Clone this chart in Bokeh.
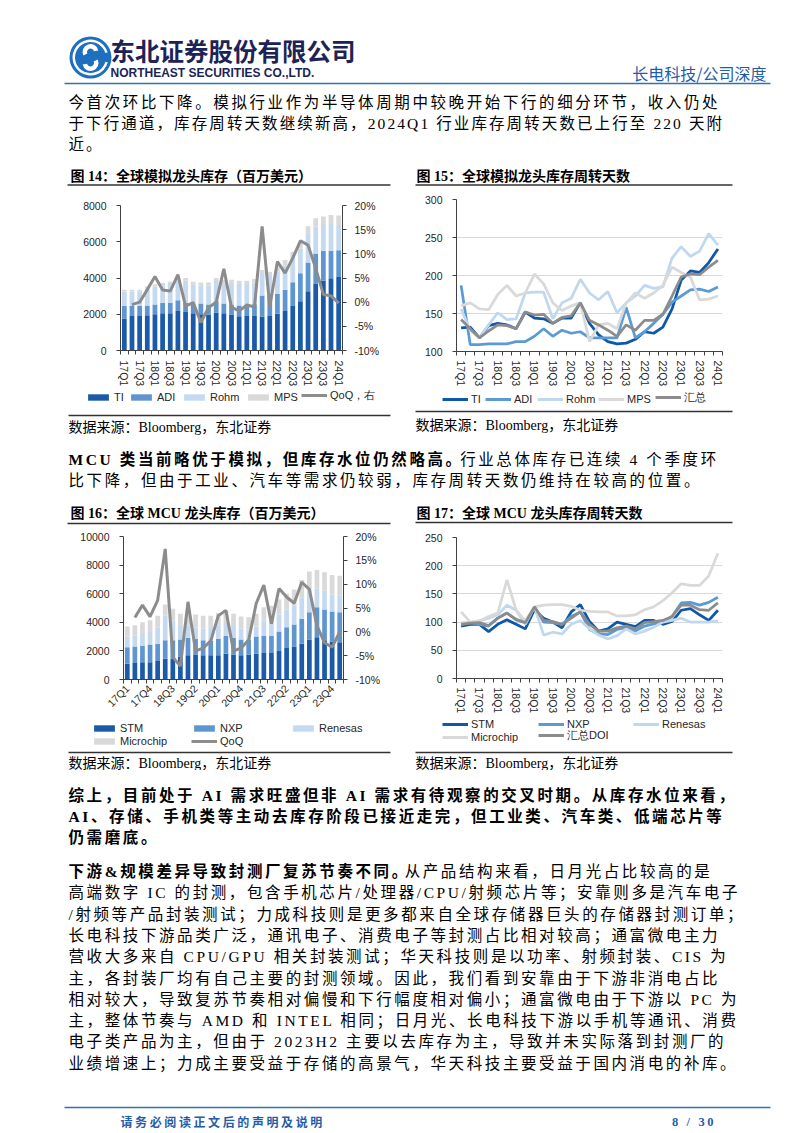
import numpy as np
from bokeh.plotting import figure
from bokeh.layouts import column, row
from bokeh.models import (Range1d, LinearAxis, FixedTicker, Legend, LegendItem,
                          ColumnDataSource, PrintfTickFormatter)
from bokeh.embed import file_html
from bokeh.resources import INLINE
from bokeh.core.properties import value

# ---------------- data ----------------
quarters = ["17Q1", "17Q2", "17Q3", "17Q4", "18Q1", "18Q2", "18Q3", "18Q4",
            "19Q1", "19Q2", "19Q3", "19Q4", "20Q1", "20Q2", "20Q3", "20Q4",
            "21Q1", "21Q2", "21Q3", "21Q4", "22Q1", "22Q2", "22Q3", "22Q4",
            "23Q1", "23Q2", "23Q3", "23Q4", "24Q1"]

# Fig 14: analog inventory (USD mn) + QoQ (%)
ti14 = [1760, 1900, 1900, 1940, 2000, 2050, 2050, 2180, 2120, 2050, 2000, 1980, 2090, 2050, 1990,
        1890, 1900, 1900, 1870, 1900, 2030, 2180, 2450, 2720, 3270, 3700, 3850, 3980, 4050]
adi14 = [700, 550, 550, 545, 540, 580, 580, 595, 510, 490, 600, 560, 630, 550, 550,
         595, 600, 650, 1160, 1150, 1090, 1175, 1320, 1540, 1590, 1650, 1650, 1520, 1480]
rohm14 = [790, 800, 790, 955, 990, 970, 1040, 1085, 1220, 1110, 1000, 1050, 1110, 1130, 1190,
          1185, 1170, 1200, 1190, 1060, 1220, 1345, 1340, 1360, 1570, 1490, 1420, 1480, 1400]
mps14 = [100, 100, 110, 110, 120, 120, 130, 140, 150, 150, 150, 160, 170, 170, 170,
         180, 180, 200, 220, 240, 260, 300, 340, 380, 420, 460, 480, 500, 520]
qoq14 = [np.nan, -0.5, 0.0, 2.6, 5.3, 2.5, 2.3, 5.7, -0.8, -0.1, -4.2, -1.1, 0.0, 6.9, -1.1,
         -1.8, -0.6, -1.0, 15.7, -0.9, 8.4, 6.0, 9.1, 12.7, 11.8, 7.0, 1.6, 1.3, -0.2]

# Fig 15: analog inventory days
ti15 = [131, 132, 118, 134, 137, 135, 130, 152, 144, 143, 137, 144, 144, 164, 137,
        122, 113, 110, 111, 116, 126, 124, 132, 156, 194, 206, 204, 217, 235]
adi15 = [187, 109, 109, 110, 110, 110, 113, 113, 120, 130, 120, 128, 124, 126, 118,
         118, 118, 118, 158, 118, 126, 137, 149, 165, 173, 181, 182, 179, 185]
rohm15 = [156, 128, 118, 135, 151, 142, 143, 177, 178, 178, 143, 164, 170, 195, 177,
          168, 179, 151, 164, 173, 187, 183, 185, 223, 238, 225, 232, 255, 240]
mps15 = [160, 164, 156, 155, 175, 187, 173, 177, 202, 189, 164, 154, 160, 164, 113,
         135, 137, 130, 164, 177, 170, 177, 187, 211, 204, 198, 168, 169, 173]
sum15 = [142, 130, 118, 127, 135, 134, 130, 152, 148, 149, 137, 145, 147, 164, 141,
         135, 128, 120, 135, 128, 141, 141, 149, 173, 198, 202, 201, 211, 220]

# Fig 16: MCU inventory (USD mn) + QoQ (%)
stm16 = [1100, 1150, 1200, 1200, 1300, 1450, 1450, 1600, 1700, 1750, 1700, 1700, 1700, 1800, 1750,
         1700, 1750, 1800, 1850, 1850, 2000, 2200, 2300, 2500, 2800, 2950, 2750, 2650, 2600]
nxp16 = [1150, 1150, 1150, 1250, 1200, 1300, 1300, 1200, 1200, 1100, 1050, 1000, 1150, 1250, 1150,
         1100, 1050, 1200, 1200, 1200, 1350, 1450, 1550, 1750, 1900, 2100, 2150, 2100, 2100]
ren16 = [750, 800, 900, 950, 1150, 1700, 1350, 950, 900, 800, 800, 900, 950, 900, 850,
         750, 700, 700, 1050, 1100, 1200, 1250, 1300, 1500, 1600, 1300, 1300, 1200, 1200]
mchp16 = [700, 700, 750, 750, 800, 800, 850, 850, 900, 900, 900, 850, 850, 850, 850,
          850, 850, 900, 950, 1000, 1050, 1100, 1150, 1200, 1250, 1300, 1300, 1350, 1350]
qoq16 = [np.nan, 3.0, 5.6, 3.2, 6.6, 17.4, -5.3, -7.2, 6.3, -4.0, -3.4, -1.9, 3.4, 4.5, -4.0,
         -3.4, -1.7, 6.0, 9.8, 1.7, 9.1, 7.3, 6.0, 10.4, 8.9, 1.3, -2.3, -3.2, 0.0]

# Fig 17: MCU inventory days
stm17 = [93, 96, 96, 83, 96, 104, 96, 88, 122, 107, 100, 90, 118, 131, 101,
         84, 88, 100, 96, 92, 103, 103, 96, 101, 121, 124, 113, 103, 121]
nxp17 = [96, 99, 96, 93, 107, 116, 104, 99, 127, 100, 99, 96, 110, 118, 87,
         79, 78, 87, 90, 84, 93, 97, 100, 110, 134, 135, 130, 135, 144]
ren17 = [99, 99, 102, 107, 113, 130, 121, 96, 127, 77, 82, 79, 96, 103, 88,
         77, 70, 76, 88, 79, 84, 91, 100, 103, 107, 100, 100, 100, 102]
mchp17 = [118, 100, 102, 110, 116, 175, 121, 102, 127, 130, 131, 131, 128, 121, 119,
          118, 118, 111, 111, 113, 122, 127, 138, 152, 168, 165, 165, 182, 222]
doi17 = [96, 98, 99, 94, 107, 116, 105, 99, 127, 103, 101, 96, 107, 118, 96,
         84, 84, 90, 93, 88, 99, 101, 103, 110, 130, 130, 122, 121, 134]

ticks_lr14 = [0, 2000, 4000, 6000, 8000]
ticks_lr16 = [0, 2000, 4000, 6000, 8000, 10000]
ticks_pct = [-10, -5, 0, 5, 10, 15, 20]
ticks_d15 = [100, 150, 200, 250, 300]
ticks_d17 = [0, 50, 100, 150, 200, 250]

# ---------------- style ----------------
C_DARK = "#1a5aa8"
C_MED = "#5f96d2"
C_LIGHT = "#c5daf0"
C_GREYL = "#d9d9d9"
C_GREY = "#8c8c8c"
L_DARK = "#0f58a8"
L_MED = "#5b9bd5"
L_LIGHT = "#c0d8ef"
AX = "#404040"
TXT = "#262626"
BLUE = "#2e74b5"
FONT_NUM = "Liberation Sans"
FONT_CJK = "Noto Sans CJK SC"
FONT_MIX = "Liberation Serif, Noto Sans CJK SC"

BODY_FS = 15.5
BODY_LS = 2.6
LEG_H = 13


def page_fig(x0, x1, y0, y1, spacing=None):
    p = figure(width=x1 - x0, height=y1 - y0, x_range=Range1d(x0, x1), y_range=Range1d(y1, y0),
               output_backend="svg", toolbar_location=None, x_axis_location=None,
               y_axis_location=None, min_border=0, outline_line_color=None,
               background_fill_color="white", border_fill_color="white", frame_align=False)
    p.xgrid.grid_line_color = None
    p.ygrid.grid_line_color = None
    if spacing is not None:
        p.styles = {"letter-spacing": spacing}
    return p


def txt(p, x, y, s, size, color="#000000", font=FONT_MIX, bold=False, align="left"):
    p.text(x=[x], y=[y], text=[s], text_font=value(font), text_font_size=size,
           text_color=color, text_font_style="bold" if bold else "normal",
           text_align=align, text_baseline="middle")


def hline(p, x0, x1, y, color, w):
    p.segment(x0=[x0], y0=[y], x1=[x1], y1=[y], line_color=color, line_width=w)


def est_w(s, fs, ls):
    w = 0.0
    for c in s:
        if ord(c) > 0x2E80:
            w += fs + ls
        elif c == " ":
            w += 0.25 * fs + ls
        elif c.isupper():
            w += 0.72 * fs + ls
        else:
            w += 0.5 * fs + ls
    return w


def base_chart(w, h, yr, ml, mr, mt, mb):
    p = figure(width=w, height=h, x_range=Range1d(-0.5, 28.5), y_range=Range1d(*yr),
               output_backend="svg", toolbar_location=None,
               min_border_left=ml, min_border_right=mr, min_border_top=mt, min_border_bottom=mb,
               outline_line_color=None, background_fill_color="white", border_fill_color="white",
               frame_align=False)
    p.xgrid.grid_line_color = None
    p.ygrid.grid_line_color = None
    return p


def style_y(ax, ticks, standoff):
    ax.ticker = FixedTicker(ticks=ticks)
    ax.axis_line_color = AX
    ax.major_tick_line_color = AX
    ax.major_tick_out = 4
    ax.major_tick_in = 0
    ax.minor_tick_line_color = None
    ax.major_label_text_font = FONT_NUM
    ax.major_label_text_font_size = "10.5px"
    ax.major_label_text_color = TXT
    ax.major_label_standoff = standoff


def style_x(ax, idx, orient, standoff):
    ax.ticker = FixedTicker(ticks=idx, minor_ticks=[i - 0.5 for i in range(len(quarters) + 1)])
    ax.major_label_overrides = {i: quarters[i] for i in idx}
    ax.major_label_orientation = orient
    ax.axis_line_color = AX
    ax.major_tick_line_color = None
    ax.major_tick_out = 0
    ax.major_tick_in = 0
    ax.minor_tick_line_color = AX
    ax.minor_tick_out = 4
    ax.minor_tick_in = 0
    ax.major_label_text_font = FONT_NUM
    ax.major_label_text_font_size = "10.5px"
    ax.major_label_text_color = TXT
    ax.major_label_standoff = standoff


x_idx = list(range(len(quarters)))

# ---------------- header ----------------
head = page_fig(0, 802, 0, 90)
head.circle(x=[90], y=[57], radius=21, fill_color="#1f6fc1", line_color=None)
head.annular_wedge(x=[90], y=[57], inner_radius=15.5, outer_radius=18, start_angle=0.3,
                   end_angle=6.0, fill_color="white", line_color=None)
head.annular_wedge(x=[90], y=[51.5], inner_radius=3.5, outer_radius=8, start_angle=0.2,
                   end_angle=3.6, fill_color="white", line_color=None)
head.annular_wedge(x=[90], y=[62.5], inner_radius=3.5, outer_radius=8, start_angle=3.34,
                   end_angle=6.74, fill_color="white", line_color=None)
txt(head, 110, 50, "东北证券股份有限公司", "24.5px", color="#1d2357", font=FONT_CJK, bold=True)
txt(head, 110, 72, "NORTHEAST SECURITIES CO.,LTD.", "12px", color="#1d2357", font=FONT_NUM, bold=True)
txt(head, 766, 72, "长电科技/公司深度", "16px", color="#1f5da8", font=FONT_CJK, align="right")
hline(head, 64, 770, 83, BLUE, 1.6)

# ---------------- paragraph 1 ----------------
p1_lines = ["今首次环比下降。模拟行业作为半导体周期中较晚开始下行的细分环节，收入仍处",
            "于下行通道，库存周转天数继续新高，2024Q1 行业库存周转天数已上行至 220 天附",
            "近。"]
para1a = page_fig(0, 802, 90, 112, spacing="%spx" % BODY_LS)
txt(para1a, 68, 101.5, p1_lines[0], "%spx" % BODY_FS)
para1b = page_fig(0, 802, 112, 163, spacing="2.1px")
txt(para1b, 68, 122.5, p1_lines[1], "%spx" % BODY_FS)
txt(para1b, 68, 143.5, p1_lines[2], "%spx" % BODY_FS)


# ---------------- chart panel helpers ----------------
def title_fig(x0, x1, y0, y1, tx, ty, s, ly, lx0, lx1):
    f = page_fig(x0, x1, y0, y1)
    txt(f, tx, ty, s, "14px", font=FONT_MIX, bold=True)
    hline(f, lx0, lx1, ly, "#333333", 1.3)
    return f


def foot_fig(x0, x1, y0, y1, ly, lx0, lx1, ty, items):
    f = page_fig(x0, x1, y0, y1)
    off = [x0 - 60, x0 - 40]  # keys drawn only in the legend, outside the visible range
    for lab, kind, color, gx, cy in items:
        if kind == "bar":
            r = f.vbar(x=off[:1], top=[y0], bottom=[y0], width=1, fill_color=color, line_color=None)
        else:
            r = f.line(x=off, y=[y0, y0], line_color=color, line_width=3)
        leg = Legend(items=[LegendItem(label=lab, renderers=[r])],
                     location=(gx - x0, (y1 - cy) - LEG_H / 2), orientation="horizontal",
                     padding=0, margin=0, spacing=0, glyph_width=26, glyph_height=8,
                     label_standoff=3, label_text_font=FONT_NUM, label_text_font_size="11px",
                     label_text_color=TXT, label_height=8, label_width=10,
                     background_fill_alpha=0, border_line_color=None)
        f.add_layout(leg)
    hline(f, lx0, lx1, ly, "#333333", 1.3)
    txt(f, lx0, ty, "数据来源：Bloomberg，东北证券", "14px", font=FONT_MIX)
    return f


# ---------------- Fig 14 ----------------
t14 = title_fig(0, 405, 163, 190, 70, 175.5, "图 14：全球模拟龙头库存（百万美元）", 184.5, 67, 390)
src14 = ColumnDataSource(dict(x=x_idx, TI=ti14, ADI=adi14, Rohm=rohm14, MPS=mps14, qoq=qoq14))
p14 = base_chart(405, 199, (0, 8000), 120, 63, 15, 37)
p14.vbar_stack(["TI", "ADI", "Rohm", "MPS"], x="x", width=0.62,
               fill_color=[C_DARK, C_MED, C_LIGHT, C_GREYL], line_color=None, source=src14)
p14.extra_y_ranges = {"pct": Range1d(-10, 20)}
p14.line("x", "qoq", source=src14, y_range_name="pct", line_color=C_GREY, line_width=3)
style_y(p14.yaxis[0], ticks_lr14, 10)
ax = LinearAxis(y_range_name="pct", formatter=PrintfTickFormatter(format="%d%%"))
style_y(ax, ticks_pct, 8)
p14.add_layout(ax, "right")
style_x(p14.xaxis[0], x_idx[::2], "vertical", 6)
f14 = foot_fig(0, 405, 389, 437, 415, 68, 390, 427,
               [("TI", "bar", C_DARK, 85, 396), ("ADI", "bar", C_MED, 128, 396),
                ("Rohm", "bar", C_LIGHT, 181, 396), ("MPS", "bar", C_GREYL, 245, 396),
                ("QoQ，右", "line", C_GREY, 301, 396)])

# ---------------- Fig 15 ----------------
t15 = title_fig(405, 802, 163, 190, 416, 175.5, "图 15：全球模拟龙头库存周转天数", 184.5, 415, 732)
src15 = ColumnDataSource(dict(x=x_idx, TI=ti15, ADI=adi15, Rohm=rohm15, MPS=mps15, SUM=sum15))
p15 = base_chart(397, 199, (100, 300), 51, 80, 9, 32)
p15.ygrid.grid_line_color = "#d9d9d9"
p15.ygrid.ticker = FixedTicker(ticks=ticks_d15)
for col, c in [("TI", L_DARK), ("ADI", L_MED), ("Rohm", L_LIGHT), ("MPS", C_GREYL), ("SUM", C_GREY)]:
    p15.line("x", col, source=src15, line_color=c, line_width=2.75)
style_y(p15.yaxis[0], ticks_d15, 10)
style_x(p15.xaxis[0], x_idx[::2], "vertical", 5)
f15 = foot_fig(405, 802, 389, 437, 411, 415, 732, 425,
               [("TI", "line", L_DARK, 442, 398), ("ADI", "line", L_MED, 485, 398),
                ("Rohm", "line", L_LIGHT, 537, 398), ("MPS", "line", C_GREYL, 598, 398),
                ("汇总", "line", C_GREY, 655, 398)])

# ---------------- paragraph 2 ----------------
mid = page_fig(0, 802, 437, 500, spacing="%spx" % BODY_LS)
b2 = "MCU 类当前略优于模拟，但库存水位仍然略高。"
txt(mid, 68, 459, b2, "%spx" % BODY_FS, bold=True)
txt(mid, 68 + est_w(b2, BODY_FS, BODY_LS), 459, "行业总体库存已连续 4 个季度环", "%spx" % BODY_FS)
txt(mid, 68, 480, "比下降，但由于工业、汽车等需求仍较弱，库存周转天数仍维持在较高的位置。", "%spx" % BODY_FS)

# ---------------- Fig 16 ----------------
t16 = title_fig(0, 405, 500, 528, 70, 513, "图 16：全球 MCU 龙头库存（百万美元）", 523, 67, 390)
src16 = ColumnDataSource(dict(x=x_idx, STM=stm16, NXP=nxp16, Renesas=ren16, Microchip=mchp16, qoq=qoq16))
p16 = base_chart(405, 188, (0, 10000), 123, 62, 8, 30)
p16.vbar_stack(["STM", "NXP", "Renesas", "Microchip"], x="x", width=0.62,
               fill_color=[C_DARK, C_MED, C_LIGHT, C_GREYL], line_color=None, source=src16)
p16.extra_y_ranges = {"pct": Range1d(-10, 20)}
p16.line("x", "qoq", source=src16, y_range_name="pct", line_color=C_GREY, line_width=3)
style_y(p16.yaxis[0], ticks_lr16, 10)
ax = LinearAxis(y_range_name="pct", formatter=PrintfTickFormatter(format="%d%%"))
style_y(ax, ticks_pct, 8)
p16.add_layout(ax, "right")
style_x(p16.xaxis[0], x_idx[::3], np.pi / 4, 3)
f16 = foot_fig(0, 405, 716, 770, 752, 68, 390, 763,
               [("STM", "bar", C_DARK, 91, 727), ("NXP", "bar", C_MED, 191, 727),
                ("Renesas", "bar", C_LIGHT, 290, 727), ("Microchip", "bar", C_GREYL, 91, 740),
                ("QoQ", "line", C_GREY, 191, 740)])

# ---------------- Fig 17 ----------------
t17 = title_fig(405, 802, 500, 528, 416, 513, "图 17：全球 MCU 龙头库存周转天数", 522, 415, 732)
src17 = ColumnDataSource(dict(x=x_idx, STM=stm17, NXP=nxp17, Renesas=ren17, Microchip=mchp17, DOI=doi17))
p17 = base_chart(397, 188, (0, 250), 51, 80, 9, 32)
p17.ygrid.grid_line_color = "#d9d9d9"
p17.ygrid.ticker = FixedTicker(ticks=ticks_d17[1:])
for col, c in [("STM", L_DARK), ("NXP", L_MED), ("Renesas", L_LIGHT), ("Microchip", C_GREYL),
               ("DOI", C_GREY)]:
    p17.line("x", col, source=src17, line_color=c, line_width=2.75)
style_y(p17.yaxis[0], ticks_d17, 10)
style_x(p17.xaxis[0], x_idx[::2], "vertical", 5)
f17 = foot_fig(405, 802, 716, 770, 752, 415, 732, 763,
               [("STM", "line", L_DARK, 442, 723), ("NXP", "line", L_MED, 538, 723),
                ("Renesas", "line", L_LIGHT, 633, 723), ("Microchip", "line", C_GREYL, 442, 736),
                ("汇总DOI", "line", C_GREY, 538, 736)])

# ---------------- bottom text ----------------
bot = page_fig(0, 802, 770, 1133, spacing="%spx" % BODY_LS)
p3_lines = ["综上，目前处于 AI 需求旺盛但非 AI 需求有待观察的交叉时期。从库存水位来看，",
            "AI、存储、手机类等主动去库存阶段已接近走完，但工业类、汽车类、低端芯片等",
            "仍需磨底。"]
for i, s in enumerate(p3_lines):
    txt(bot, 68, 795 + 21 * i, s, "%spx" % BODY_FS, bold=True)
b4 = "下游&规模差异导致封测厂复苏节奏不同。"
txt(bot, 68, 871, b4, "%spx" % BODY_FS, bold=True)
txt(bot, 68 + est_w(b4, BODY_FS, BODY_LS), 871, "从产品结构来看，日月光占比较高的是", "%spx" % BODY_FS)
p4_lines = ["高端数字 IC 的封测，包含手机芯片/处理器/CPU/射频芯片等；安靠则多是汽车电子",
            "/射频等产品封装测试；力成科技则是更多都来自全球存储器巨头的存储器封测订单；",
            "长电科技下游品类广泛，通讯电子、消费电子等封测占比相对较高；通富微电主力",
            "营收大多来自 CPU/GPU 相关封装测试；华天科技则是以功率、射频封装、CIS 为",
            "主，各封装厂均有自己主要的封测领域。因此，我们看到安靠由于下游非消电占比",
            "相对较大，导致复苏节奏相对偏慢和下行幅度相对偏小；通富微电由于下游以 PC 为",
            "主，整体节奏与 AMD 和 INTEL 相同；日月光、长电科技下游以手机等通讯、消费",
            "电子类产品为主，但由于 2023H2 主要以去库存为主，导致并未实际落到封测厂的",
            "业绩增速上；力成主要受益于存储的高景气，华天科技主要受益于国内消电的补库。"]
for i, s in enumerate(p4_lines):
    txt(bot, 68, 892.3 + 21.3 * i, s, "%spx" % BODY_FS)
hline(bot, 64, 770, 1107, BLUE, 1.6)
txt(bot, 120, 1121, "请务必阅读正文后的声明及说明", "12px", color="#1f5da8", font=FONT_CJK, bold=True)
txt(bot, 700, 1121, "8 / 30", "12.5px", color="#1f5da8", font="Liberation Serif", bold=True, align="right")

layout = column(head, para1a, para1b,
                row(column(t14, p14, f14), column(t15, p15, f15)),
                mid,
                row(column(t16, p16, f16), column(t17, p17, f17)),
                bot)

open("out.html", "w", encoding="utf-8").write(file_html(layout, INLINE, title="长电科技/公司深度"))
